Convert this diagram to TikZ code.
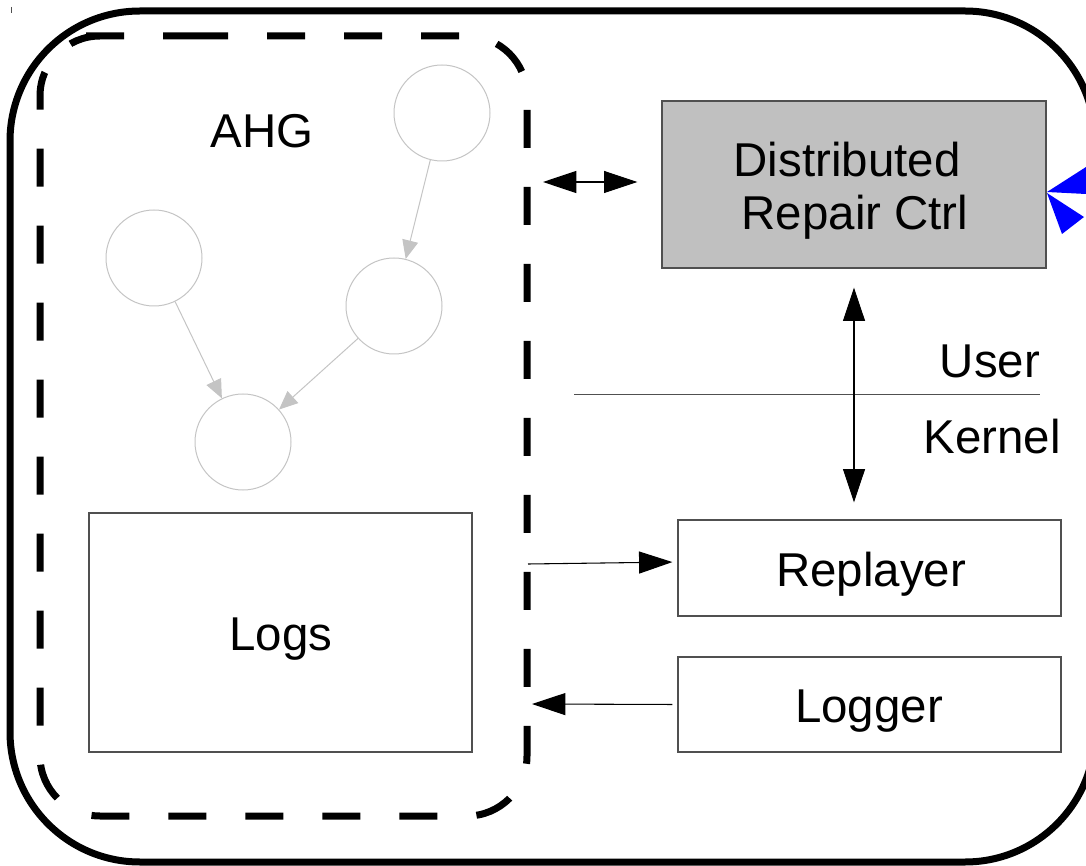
\documentclass[tikz,border=0pt]{standalone}
\usepackage{fontspec}
\setmainfont{Liberation Sans}
\usetikzlibrary{arrows.meta,calc}
\definecolor{boxgray}{HTML}{C0C0C0}
\definecolor{nodegray}{HTML}{C4C4C4}
\definecolor{edgegray}{HTML}{505050}
\definecolor{tipblue}{HTML}{0000FF}
\begin{document}
\begin{tikzpicture}[x=0.75pt,y=-0.75pt,
  lbl/.style={font=\fontsize{35.6pt}{42pt}\selectfont, inner sep=0pt, anchor=base},
  blk/.style={draw=edgegray, line width=0.9pt, inner sep=0pt},
  gnode/.style={circle, draw=nodegray, line width=0.75pt, minimum size=72pt, inner sep=0pt},
  garrow/.style={draw=nodegray, line width=0.75pt, -{Triangle[length=14pt,width=12pt,fill=nodegray]}},
  barrow/.style={line width=0.8pt, -{Triangle[length=25pt,width=16.5pt]}},
  bdarrow/.style={line width=0.8pt, {Triangle[length=25pt,width=16.5pt]}-{Triangle[length=25pt,width=16.5pt]}},
  frame/.style={draw, line width=5.25pt, rounded corners=97.5pt, inner sep=0pt},
  dashframe/.style={line width=5.25pt, rounded corners=45pt, dash pattern=on 28.5pt off 29.25pt}
]
\useasboundingbox (0,0) rectangle (1086,866);

% outer frame
\node[frame, minimum width=813.75pt, minimum height=638.25pt] (sys) at (552.5,436.5) {};

% tiny tick top left
\draw[edgegray, line width=0.5pt] (11,7) -- (11,13);

% dashed AHG region
\draw[dashframe] (130,36) -- (527,36) -- (527,816) -- (40,816) -- (40,36) -- cycle;
\coordinate (ahgTop) at (543,182);
\coordinate (ahgOut) at (528,564);
\coordinate (ahgIn) at (532,704);

% AHG graph
\node[lbl] (ahglbl) at (262,148) {AHG};
\node[gnode] (c1) at (442,113) {};
\node[gnode] (c2) at (154,258) {};
\node[gnode] (c3) at (394,306) {};
\node[gnode] (c4) at (243,442) {};
\draw[garrow] (c1) -- (c3);
\draw[garrow] (c2) -- (c4);
\draw[garrow] (c3) -- (c4);

% Logs
\node[blk, minimum width=287.25pt, minimum height=179.25pt] (logs) at (280.5,632.5) {};
\node[lbl] at (281,650) {Logs};

% Distributed Repair Ctrl
\node[blk, fill=boxgray, minimum width=288pt, minimum height=125.25pt] (drc) at (854,184.5) {};
\node[lbl] at (847,177) {Distributed};
\node[lbl] at (855,230) {Repair Ctrl};

% blue tip on the right
\fill[tipblue] (1047,192) -- (1086,167) -- (1086,194) -- cycle;
\fill[tipblue] (1047,193) -- (1084,217) -- (1062,234) -- cycle;

% Replayer & Logger
\node[blk, minimum width=287.25pt, minimum height=72pt] (rep) at (869.5,568) {};
\node[lbl] at (871,586) {Replayer};
\node[blk, minimum width=287.25pt, minimum height=71.25pt] (lgr) at (869.5,704.5) {};
\node[lbl] at (869,722) {Logger};

% User / Kernel boundary
\coordinate (ukL) at (574,395);
\coordinate (ukR) at (1040,395);
\draw[edgegray, line width=0.75pt] (ukL) -- (ukR);
\node[lbl] at (990,378) {User};
\node[lbl] at (992,454) {Kernel};

% connectors
\draw[bdarrow, shorten >=18pt] (ahgTop) -- (drc.west |- ahgTop);
\draw[bdarrow, shorten <=14.25pt, shorten >=12.75pt] (drc.south) -- (drc.south |- rep.north);
\draw[barrow, shorten >=3.75pt] (ahgOut) -- ($(rep.west)+(0,-6)$);
\draw[barrow, shorten <=3.75pt] (lgr.west) -- (ahgIn);
\end{tikzpicture}
\end{document}
